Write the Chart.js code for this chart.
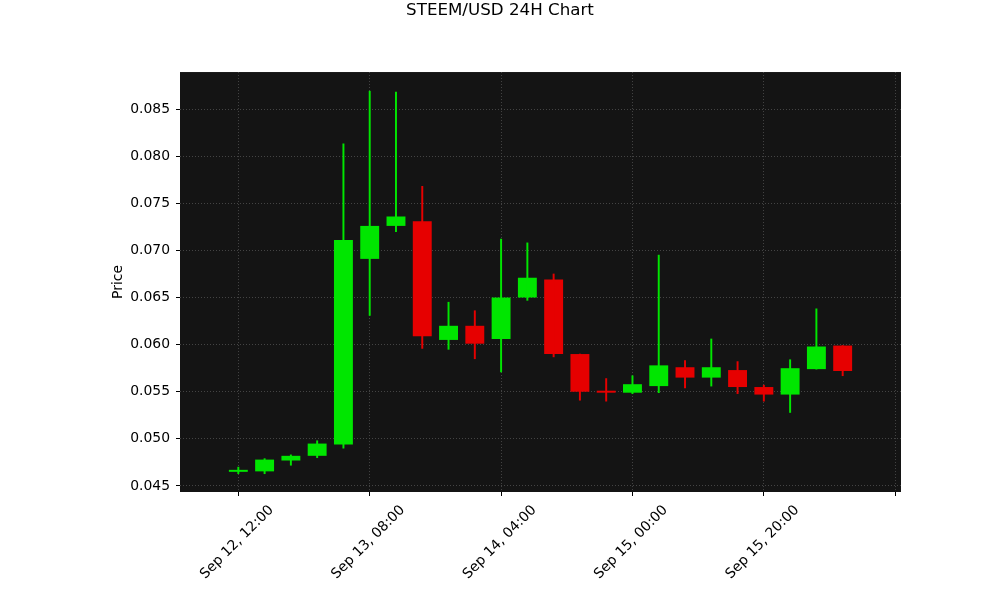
<!DOCTYPE html>
<html><head><meta charset="utf-8">
<script src="https://cdn.jsdelivr.net/npm/chart.js@4.4.1/dist/chart.umd.min.js"></script>
<style>html,body{margin:0;padding:0;background:#fff;} #wrap{width:1000px;height:600px;}</style>
</head><body><div id="wrap"><canvas id="c" width="1000" height="600"></canvas></div>
<script>
const categories = ['Sep 12, 12:00','Sep 12, 16:00','Sep 12, 20:00','Sep 13, 00:00','Sep 13, 04:00','Sep 13, 08:00','Sep 13, 12:00','Sep 13, 16:00','Sep 13, 20:00','Sep 14, 00:00','Sep 14, 04:00','Sep 14, 08:00','Sep 14, 12:00','Sep 14, 16:00','Sep 14, 20:00','Sep 15, 00:00','Sep 15, 04:00','Sep 15, 08:00','Sep 15, 12:00','Sep 15, 16:00','Sep 15, 20:00','Sep 16, 00:00','Sep 16, 04:00','Sep 16, 08:00'];
const opens  = [0.04650,0.04655,0.0477,0.0482,0.0494,0.0691,0.0726,0.0731,0.0605,0.0620,0.0606,0.0650,0.0669,0.0590,0.0550,0.0549,0.0556,0.0576,0.0565,0.0573,0.0555,0.0547,0.0574,0.0599];
const highs  = [0.0470,0.0479,0.0483,0.0498,0.0813,0.0869,0.0868,0.0768,0.0645,0.0636,0.0712,0.0708,0.0675,0.0590,0.0564,0.0567,0.0695,0.0583,0.0606,0.0582,0.0557,0.0584,0.0638,0.0599];
const lows   = [0.0463,0.0463,0.0472,0.0480,0.0490,0.0631,0.0720,0.0596,0.0595,0.0585,0.0571,0.0647,0.0587,0.0541,0.0540,0.0548,0.0549,0.0554,0.0556,0.0548,0.0540,0.0528,0.0574,0.0567];
const closes = [0.04655,0.0478,0.0482,0.0495,0.0711,0.0726,0.0736,0.0609,0.0620,0.0601,0.0650,0.0671,0.0590,0.0550,0.0549,0.0558,0.0578,0.0565,0.0576,0.0555,0.0547,0.0575,0.0598,0.0572];
const xTickPositions = [0,5,10,15,20,25];
const xTickLabels = ['Sep 12, 12:00','Sep 13, 08:00','Sep 14, 04:00','Sep 15, 00:00','Sep 15, 20:00',''];
const yTickValues = [0.045,0.050,0.055,0.060,0.065,0.070,0.075,0.080,0.085];

const UP = '#00e600', DOWN = '#e60000';
const colors = opens.map((o,i)=> closes[i] >= o ? UP : DOWN);
const wickData = categories.map((c,i)=>({x:i, y:[lows[i], highs[i]]}));
const bodyData = categories.map((c,i)=>({x:i, y:[Math.min(opens[i],closes[i]), Math.max(opens[i],closes[i])]}));

const font = {family:'DejaVu Sans', size:13.9};
const bgPlugin = {id:'bg', beforeDraw(chart){const {ctx, chartArea:a}=chart; ctx.save(); ctx.fillStyle='#141414'; ctx.fillRect(a.left,a.top,a.right-a.left,a.bottom-a.top); ctx.restore();}};
const gridOpts = {color:'#505050', lineWidth:0.8, tickColor:'#000', tickLength:4, tickWidth:1, offset:false};

new Chart(document.getElementById('c'), {
  type:'bar',
  data:{datasets:[
    {label:'wick', data:wickData, backgroundColor:colors, barThickness:1.3, grouped:false, borderWidth:0},
    {label:'body', data:bodyData, backgroundColor:colors, grouped:false, borderWidth:0, minBarLength:2, barPercentage:0.9, categoryPercentage:0.8}
  ]},
  options:{
    responsive:false, animation:false, devicePixelRatio:1,
    layout:{padding:{top:0,left:0,right:0,bottom:0}},
    plugins:{
      legend:{display:false}, tooltip:{enabled:false},
      title:{display:true, text:'STEEM/USD 24H Chart', color:'#000', font:{family:'DejaVu Sans', size:16.7, weight:'normal'}, padding:{top:1, bottom:51}}
    },
    scales:{
      x:{type:'linear', min:-2.22, max:25.22, offset:false,
        grid:gridOpts, border:{display:false, dash:[1,2]},
        afterBuildTicks:s=>{ s.ticks = xTickPositions.map(v=>({value:v})); },
        afterFit:s=>{ s.height = 108; s.paddingLeft = 0; s.paddingRight = 0; },
        ticks:{autoSkip:false, maxRotation:45, minRotation:45, labelOffset:33, padding:6, color:'#000', font,
          callback:(v,i)=> xTickLabels[i]}
      },
      y:{type:'linear', min:0.04436, max:0.08893,
        grid:gridOpts, border:{display:false, dash:[1,2]},
        afterBuildTicks:s=>{ s.ticks = yTickValues.map(v=>({value:v})); },
        afterFit:s=>{ s.width = 180; s.paddingTop = 0; s.paddingBottom = 0; },
        ticks:{color:'#000', font, padding:6, callback:v=> Number(v).toFixed(3)},
        title:{display:true, text:'Price', color:'#000', font, padding:{top:110, bottom:0}}
      },
      yRight:{type:'linear', position:'right', min:0, max:1, display:true,
        grid:{display:false, drawOnChartArea:false, drawTicks:false}, border:{display:false},
        ticks:{display:false},
        afterFit:s=>{ s.width = 99; s.paddingTop = 0; s.paddingBottom = 0; }
      }
    }
  },
  plugins:[bgPlugin]
});
</script></body></html>
